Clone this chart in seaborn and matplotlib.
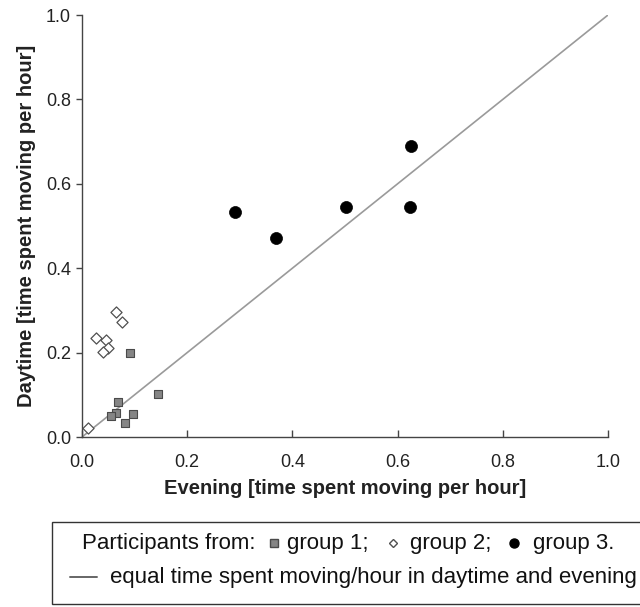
import matplotlib
matplotlib.use("Agg")
import matplotlib.pyplot as plt
import seaborn as sns
import pandas as pd
from matplotlib.lines import Line2D
from matplotlib.patches import Rectangle

# ---- data ----
g1_evening = [0.091, 0.144, 0.069, 0.065, 0.055, 0.097, 0.081]
g1_daytime = [0.200, 0.103, 0.083, 0.058, 0.050, 0.055, 0.034]

g2_evening = [0.065, 0.076, 0.026, 0.045, 0.050, 0.039, 0.011]
g2_daytime = [0.296, 0.272, 0.235, 0.230, 0.212, 0.201, 0.021]

g3_evening = [0.290, 0.368, 0.501, 0.623, 0.625]
g3_daytime = [0.533, 0.472, 0.545, 0.545, 0.690]

diag = [0.0, 1.0]
ticks = [0.0, 0.2, 0.4, 0.6, 0.8, 1.0]
tick_labels = ["0.0", "0.2", "0.4", "0.6", "0.8", "1.0"]

sns.set_style("white")
plt.rcParams["font.family"] = ["Liberation Sans", "DejaVu Sans"]

fig = plt.figure(figsize=(6.40, 6.07), dpi=100)
ax = fig.add_axes([82 / 640, 1 - 437 / 607, (608 - 82) / 640, (437 - 15) / 607])

sns.lineplot(x=diag, y=diag, ax=ax, color="#9a9a9a", linewidth=1.2, zorder=1)

df1 = pd.DataFrame({"x": g1_evening, "y": g1_daytime})
df2 = pd.DataFrame({"x": g2_evening, "y": g2_daytime})
df3 = pd.DataFrame({"x": g3_evening, "y": g3_daytime})

sns.scatterplot(data=df1, x="x", y="y", ax=ax, marker="s", s=38,
                color="#858585", edgecolor="#4a4a4a", linewidth=0.8, zorder=3)
sns.scatterplot(data=df2, x="x", y="y", ax=ax, marker="D", s=32,
                color="white", edgecolor="#505050", linewidth=0.9, zorder=3)
sns.scatterplot(data=df3, x="x", y="y", ax=ax, marker="o", s=75,
                color="black", edgecolor="black", linewidth=0.5, zorder=3)

ax.set_xlim(0, 1)
ax.set_ylim(0, 1)
ax.set_xticks(ticks)
ax.set_xticklabels(tick_labels)
ax.set_yticks(ticks)
ax.set_yticklabels(tick_labels)

for side in ["top", "right"]:
    ax.spines[side].set_visible(False)
for side in ["left", "bottom"]:
    ax.spines[side].set_color("#444444")
    ax.spines[side].set_linewidth(1.0)

ax.tick_params(axis="y", direction="out", length=4, width=1, color="#444444",
               labelsize=13, labelcolor="#222222", pad=4, left=True)
ax.tick_params(axis="x", direction="in", length=5, width=1, color="#444444",
               labelsize=13, labelcolor="#222222", pad=12, bottom=True)

ax.set_xlabel("Evening [time spent moving per hour]", fontsize=14.5,
              fontweight="bold", color="#222222", labelpad=6)
ax.set_ylabel("Daytime [time spent moving per hour]", fontsize=14.5,
              fontweight="bold", color="#222222", labelpad=7)

# ---- legend box built by hand ----
fig.patches.append(Rectangle((52 / 640, 1 - 604 / 607), 1.0,
                             (604 - 522) / 607, transform=fig.transFigure,
                             facecolor="white", edgecolor="#333333",
                             linewidth=1.0))
fs = 16
y1 = 1 - 543 / 607
y2 = 1 - 577 / 607
fig.text(82 / 640, y1, "Participants from:", fontsize=fs, va="center",
         ha="left", color="#111111")
fig.lines.append(Line2D([274 / 640], [y1], transform=fig.transFigure,
                        marker="s", markersize=5.5, color="#858585",
                        markeredgecolor="#4a4a4a", linestyle="none"))
fig.text(287 / 640, y1, "group 1;", fontsize=fs, va="center", ha="left",
         color="#111111")
fig.lines.append(Line2D([393 / 640], [y1], transform=fig.transFigure,
                        marker="D", markersize=4.5, color="white",
                        markeredgecolor="#505050", linestyle="none"))
fig.text(410 / 640, y1, "group 2;", fontsize=fs, va="center", ha="left",
         color="#111111")
fig.lines.append(Line2D([514 / 640], [y1], transform=fig.transFigure,
                        marker="o", markersize=6.5, color="black",
                        linestyle="none"))
fig.text(533 / 640, y1, "group 3.", fontsize=fs, va="center", ha="left",
         color="#111111")

fig.lines.append(Line2D([70 / 640, 97 / 640], [y2, y2],
                        transform=fig.transFigure, color="#666666",
                        linewidth=1.4))
fig.text(110 / 640, y2, "equal time spent moving/hour in daytime and evening",
         fontsize=fs, va="center", ha="left", color="#111111")

fig.savefig("out.png", dpi=100)
